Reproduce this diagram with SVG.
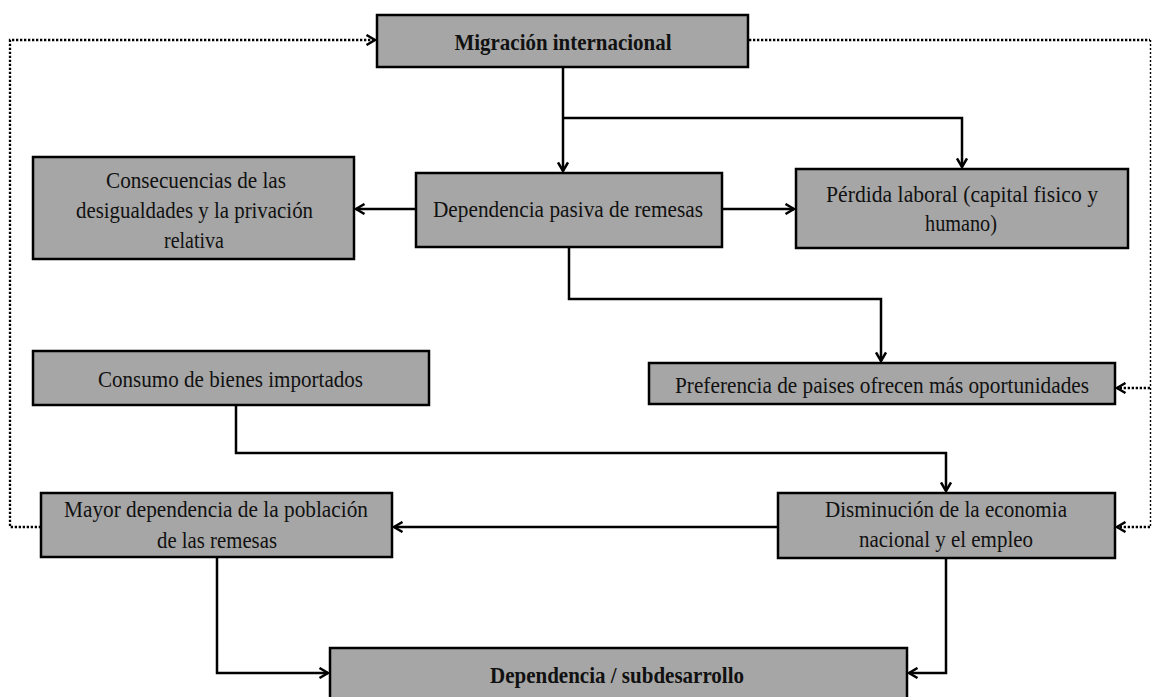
<svg xmlns="http://www.w3.org/2000/svg" width="1152" height="697" viewBox="0 0 1152 697">
<defs>
<style>
.box{fill:#a6a6a6;stroke:#000;stroke-width:2.5}
.t{font-family:"Liberation Serif","Times New Roman",serif;font-size:23.5px;fill:#111;text-anchor:middle}
.b{font-weight:bold}
.c{fill:none;stroke:#000;stroke-width:2.5}
.d{fill:none;stroke:#000;stroke-width:2.3;stroke-dasharray:2.3 1.7}
.d2{fill:none;stroke:#000;stroke-width:1.4;stroke-dasharray:2 2}
</style>
<marker id="a" viewBox="0 0 12 12" refX="10" refY="6" markerWidth="12" markerHeight="12" markerUnits="userSpaceOnUse" orient="auto">
<path d="M1.5,1 L10,6 L1.5,11" fill="none" stroke="#000" stroke-width="2.5"/>
</marker>
</defs>
<rect width="1152" height="697" fill="#fff"/>
<g id="connectors">
<path class="c" d="M563,67 V171" marker-end="url(#a)"/>
<path class="c" d="M563,118 H962 V167" marker-end="url(#a)"/>
<path class="c" d="M416,209 H356" marker-end="url(#a)"/>
<path class="c" d="M722,209 H794" marker-end="url(#a)"/>
<path class="c" d="M569,247 V299 H881 V361" marker-end="url(#a)"/>
<path class="c" d="M236,405 V453 H946 V491" marker-end="url(#a)"/>
<path class="c" d="M778,527 H394" marker-end="url(#a)"/>
<path class="c" d="M217,557 V673 H328" marker-end="url(#a)"/>
<path class="c" d="M946,558 V673 H909" marker-end="url(#a)"/>
<path class="d" d="M41,527 H10 V40 H375" marker-end="url(#a)"/>
<path class="d" d="M749,40 H1150"/>
<path class="d2" d="M1150.5,40 V527"/>
<path class="d" d="M1150,527 H1117" marker-end="url(#a)"/>
<path class="d" d="M1150,388 H1117" marker-end="url(#a)"/>
</g>
<g id="migracion">
<rect class="box" x="377" y="15" width="371" height="52"/>
<text class="t b" x="563" y="50" textLength="217" lengthAdjust="spacingAndGlyphs">Migración internacional</text>
</g>
<g id="consecuencias">
<rect class="box" x="33" y="157" width="321" height="102"/>
<text class="t" x="196" y="188" textLength="180" lengthAdjust="spacingAndGlyphs">Consecuencias  de las</text>
<text class="t" x="194.5" y="218" textLength="237" lengthAdjust="spacingAndGlyphs">desigualdades  y la privación</text>
<text class="t" x="194" y="248" textLength="60" lengthAdjust="spacingAndGlyphs">relativa</text>
</g>
<g id="dependencia-pasiva">
<rect class="box" x="416" y="173" width="306" height="74"/>
<text class="t" x="568" y="217" textLength="270" lengthAdjust="spacingAndGlyphs">Dependencia  pasiva  de remesas</text>
</g>
<g id="perdida">
<rect class="box" x="796" y="169" width="332" height="79"/>
<text class="t" x="962" y="202" textLength="272" lengthAdjust="spacingAndGlyphs">Pérdida laboral  (capital  fisico  y</text>
<text class="t" x="961" y="231" textLength="72" lengthAdjust="spacingAndGlyphs">humano)</text>
</g>
<g id="preferencia">
<rect class="box" x="649" y="363" width="466" height="41"/>
<text class="t" x="882" y="393" textLength="414" lengthAdjust="spacingAndGlyphs">Preferencia  de paises  ofrecen  más oportunidades</text>
</g>
<g id="consumo">
<rect class="box" x="33" y="351" width="396" height="54"/>
<text class="t" x="230.5" y="387" textLength="265" lengthAdjust="spacingAndGlyphs">Consumo  de bienes  importados</text>
</g>
<g id="mayor">
<rect class="box" x="41" y="493" width="351" height="64"/>
<text class="t" x="216" y="517" textLength="304" lengthAdjust="spacingAndGlyphs">Mayor  dependencia  de la población</text>
<text class="t" x="217" y="548" textLength="120" lengthAdjust="spacingAndGlyphs">de las  remesas</text>
</g>
<g id="disminucion">
<rect class="box" x="778" y="493" width="337" height="65"/>
<text class="t" x="946" y="517" textLength="242" lengthAdjust="spacingAndGlyphs">Disminución  de la economia</text>
<text class="t" x="946" y="547" textLength="174" lengthAdjust="spacingAndGlyphs">nacional  y el empleo</text>
</g>
<g id="subdesarrollo">
<rect class="box" x="330" y="648" width="577" height="62"/>
<text class="t b" x="617" y="683" textLength="254" lengthAdjust="spacingAndGlyphs">Dependencia / subdesarrollo</text>
</g>
</svg>
